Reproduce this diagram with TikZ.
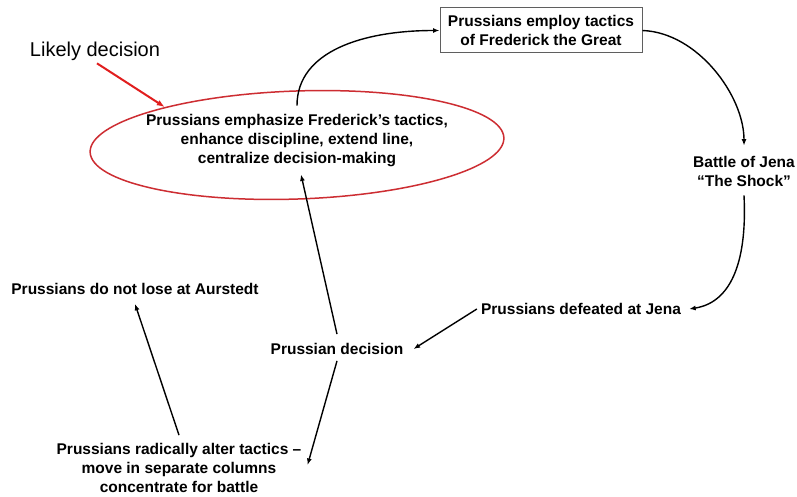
\documentclass[tikz,border=0pt]{standalone}
\usepackage{fontspec}
\setmainfont{Liberation Sans}
\usetikzlibrary{arrows.meta,shapes.geometric,calc}
\definecolor{ellred}{RGB}{205,45,50}
\definecolor{arrred}{RGB}{225,30,30}
\definecolor{boxgray}{RGB}{95,95,95}
\begin{document}
\begin{tikzpicture}[x=1pt,y=-1pt,
  lbl/.style={font=\bfseries\fontsize{15.5}{19}\selectfont, align=center, inner sep=4pt},
  conn/.style={line width=1.4pt, -{Latex[length=6.5pt,width=5pt]}},
  redconn/.style={line width=2pt, draw=arrred, -{Latex[length=8pt,width=6pt]}}
]
\fill[white] (0,0) rectangle (797,497);
\useasboundingbox (0,0) rectangle (797,497);

% labels and boxes
\node[font=\fontsize{20}{24}\selectfont, anchor=base, inner sep=2pt] (likely) at (95,57) {Likely decision};
\node[ellipse, draw=ellred, line width=1.5pt, minimum width=414pt, minimum height=108pt,
      inner sep=0pt, rotate=2] (ell) at (297,145) {};
\node[lbl] (emph) at (297,141) {Prussians emphasize Frederick’s tactics,\\enhance discipline, extend line,\\centralize decision-making};
\node[lbl, draw=boxgray, line width=1pt, minimum width=202pt, minimum height=45pt] (employ) at (541,30.5)
  {Prussians employ tactics\\of Frederick the Great};
\node[lbl] (battle) at (744,171) {Battle of Jena\\“The Shock”};
\node[lbl] (defeated) at (581,309) {Prussians defeated at Jena};
\node[lbl, inner sep=6pt] (decision) at (337,349) {Prussian decision};
\node[lbl] (nolose) at (135,289) {Prussians do not lose at Aurstedt};
\node[lbl] (alter) at (179,468) {Prussians radically alter tactics –\\move in separate columns\\concentrate for battle};

% connectors
\draw[redconn] ([xshift=2pt]likely.south) -- (ell.162);
\draw[conn] ([yshift=5pt]emph.north) .. controls +(0,-55) and +(-75,0) .. (employ.west);
\draw[conn] (employ.east) .. controls +(55,2) and +(0,-50) .. ([yshift=6pt]battle.north);
\draw[conn] ([yshift=-5pt]battle.south) .. controls +(3,60) and +(45,-7) .. ([xshift=4pt]defeated.east);
\draw[conn] (defeated.west) -- ([xshift=4pt]decision.east);
\draw[conn] ([yshift=3pt]decision.north) -- ([xshift=4pt,yshift=-3pt]emph.south);
\draw[conn] (decision.south) -- ([xshift=2pt,yshift=3pt]alter.east);
\draw[conn] ([yshift=4pt]alter.north) -- ([yshift=-5pt]nolose.south);
\end{tikzpicture}
\end{document}
